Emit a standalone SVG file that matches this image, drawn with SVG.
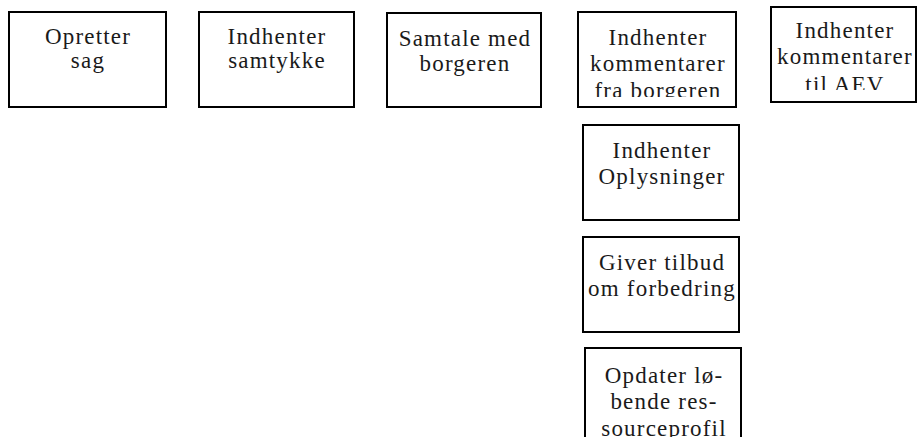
<svg xmlns="http://www.w3.org/2000/svg" width="918" height="437" viewBox="0 0 918 437">
  <style>
    .box { fill: #ffffff; stroke: #000000; stroke-width: 2; }
    .lbl { font-family: "Liberation Serif", "Times New Roman", serif; font-size: 23px; letter-spacing: 1.2px; fill: #1a1a1a; text-anchor: middle; }
  </style>
  <defs>
    <clipPath id="clip4"><rect x="578" y="12" width="158" height="85"/></clipPath>
    <clipPath id="clip5"><rect x="771" y="7" width="146" height="83"/></clipPath>
  </defs>
  <rect width="918" height="437" fill="#ffffff"/>
  <g id="connectors"></g>
  <g id="n1">
    <rect class="box" x="9" y="12" width="157" height="95"/>
    <text class="lbl" x="88" y="44">Opretter</text>
    <text class="lbl" x="88" y="68">sag</text>
  </g>
  <g id="n2">
    <rect class="box" x="199" y="12" width="155" height="95"/>
    <text class="lbl" x="277" y="44">Indhenter</text>
    <text class="lbl" x="277" y="68">samtykke</text>
  </g>
  <g id="n3">
    <rect class="box" x="387" y="13" width="154" height="94"/>
    <text class="lbl" x="465" y="46">Samtale med</text>
    <text class="lbl" x="465" y="71">borgeren</text>
  </g>
  <g id="n4">
    <rect class="box" x="578" y="12" width="158" height="95"/>
    <g clip-path="url(#clip4)">
      <text class="lbl" x="658" y="45">Indhenter</text>
      <text class="lbl" x="658" y="71">kommentarer</text>
      <text class="lbl" x="658" y="98">fra borgeren</text>
    </g>
  </g>
  <g id="n5">
    <rect class="box" x="771" y="7" width="145" height="95"/>
    <g clip-path="url(#clip5)">
      <text class="lbl" x="845" y="38">Indhenter</text>
      <text class="lbl" x="845" y="64">kommentarer</text>
      <text class="lbl" x="845" y="92">til AEV</text>
    </g>
  </g>
  <g id="n6">
    <rect class="box" x="583" y="125" width="156" height="95"/>
    <text class="lbl" x="662" y="158">Indhenter</text>
    <text class="lbl" x="662" y="184">Oplysninger</text>
  </g>
  <g id="n7">
    <rect class="box" x="583" y="237" width="156" height="95"/>
    <text class="lbl" x="662" y="270">Giver tilbud</text>
    <text class="lbl" x="662" y="296">om forbedring</text>
  </g>
  <g id="n8">
    <rect class="box" x="585" y="348" width="156" height="100"/>
    <text class="lbl" x="664" y="383">Opdater lø-</text>
    <text class="lbl" x="664" y="409">bende res-</text>
    <text class="lbl" x="664" y="436">sourceprofil</text>
  </g>
</svg>
